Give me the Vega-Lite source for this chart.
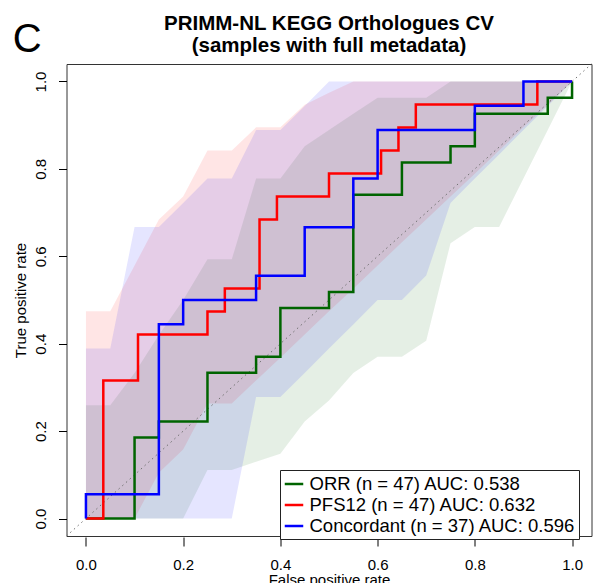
{
  "$schema": "https://vega.github.io/schema/vega-lite/v6.json",
  "width": 525,
  "height": 472,
  "autosize": {"type": "none"},
  "padding": {"left": 66.5, "top": 64, "right": 1.5, "bottom": 47},
  "background": "white",
  "config": {
    "font": "Liberation Sans",
    "view": {"stroke": "#333333", "strokeWidth": 1},
    "axis": {"grid": false, "domain": false, "labelColor": "black", "titleColor": "black", "tickColor": "black", "labelFontSize": 15, "titleFontSize": 15, "titleFontWeight": "normal"}
  },
  "title": {
    "text": ["PRIMM-NL KEGG Orthologues CV", "(samples with full metadata)"],
    "fontSize": 20.5,
    "fontWeight": "bold",
    "color": "black",
    "anchor": "middle",
    "offset": 8,
    "dy": 45,
    "lineHeight": 22
  },
  "datasets": {
    "bands": [
      {"s": "ORR", "fpr": 0, "lo": 0, "hi": 0.259},
      {"s": "ORR", "fpr": 0.05, "lo": 0, "hi": 0.259},
      {"s": "ORR", "fpr": 0.1, "lo": 0, "hi": 0.333},
      {"s": "ORR", "fpr": 0.15, "lo": 0, "hi": 0.42},
      {"s": "ORR", "fpr": 0.2, "lo": 0, "hi": 0.5},
      {"s": "ORR", "fpr": 0.25, "lo": 0.111, "hi": 0.593},
      {"s": "ORR", "fpr": 0.3, "lo": 0.111, "hi": 0.593},
      {"s": "ORR", "fpr": 0.35, "lo": 0.13, "hi": 0.778},
      {"s": "ORR", "fpr": 0.4, "lo": 0.148, "hi": 0.778},
      {"s": "ORR", "fpr": 0.45, "lo": 0.222, "hi": 0.852},
      {"s": "ORR", "fpr": 0.5, "lo": 0.27, "hi": 0.889},
      {"s": "ORR", "fpr": 0.55, "lo": 0.333, "hi": 0.926},
      {"s": "ORR", "fpr": 0.6, "lo": 0.37, "hi": 0.963},
      {"s": "ORR", "fpr": 0.65, "lo": 0.37, "hi": 0.963},
      {"s": "ORR", "fpr": 0.7, "lo": 0.407, "hi": 0.963},
      {"s": "ORR", "fpr": 0.75, "lo": 0.63, "hi": 1},
      {"s": "ORR", "fpr": 0.8, "lo": 0.667, "hi": 1},
      {"s": "ORR", "fpr": 0.85, "lo": 0.667, "hi": 1},
      {"s": "ORR", "fpr": 0.9, "lo": 0.778, "hi": 1},
      {"s": "ORR", "fpr": 0.95, "lo": 0.889, "hi": 1},
      {"s": "ORR", "fpr": 1, "lo": 1, "hi": 1},
      {"s": "PFS12", "fpr": 0, "lo": 0, "hi": 0.474},
      {"s": "PFS12", "fpr": 0.05, "lo": 0, "hi": 0.474},
      {"s": "PFS12", "fpr": 0.1, "lo": 0, "hi": 0.579},
      {"s": "PFS12", "fpr": 0.15, "lo": 0.105, "hi": 0.684},
      {"s": "PFS12", "fpr": 0.2, "lo": 0.158, "hi": 0.737},
      {"s": "PFS12", "fpr": 0.25, "lo": 0.263, "hi": 0.842},
      {"s": "PFS12", "fpr": 0.3, "lo": 0.263, "hi": 0.842},
      {"s": "PFS12", "fpr": 0.35, "lo": 0.316, "hi": 0.895},
      {"s": "PFS12", "fpr": 0.4, "lo": 0.368, "hi": 0.895},
      {"s": "PFS12", "fpr": 0.45, "lo": 0.421, "hi": 0.947},
      {"s": "PFS12", "fpr": 0.5, "lo": 0.474, "hi": 0.974},
      {"s": "PFS12", "fpr": 0.55, "lo": 0.526, "hi": 1},
      {"s": "PFS12", "fpr": 0.6, "lo": 0.579, "hi": 1},
      {"s": "PFS12", "fpr": 0.65, "lo": 0.632, "hi": 1},
      {"s": "PFS12", "fpr": 0.7, "lo": 0.684, "hi": 1},
      {"s": "PFS12", "fpr": 0.75, "lo": 0.737, "hi": 1},
      {"s": "PFS12", "fpr": 0.8, "lo": 0.789, "hi": 1},
      {"s": "PFS12", "fpr": 0.85, "lo": 0.842, "hi": 1},
      {"s": "PFS12", "fpr": 0.9, "lo": 0.895, "hi": 1},
      {"s": "PFS12", "fpr": 0.95, "lo": 0.947, "hi": 1},
      {"s": "PFS12", "fpr": 1, "lo": 1, "hi": 1},
      {"s": "Concordant", "fpr": 0, "lo": 0, "hi": 0.389},
      {"s": "Concordant", "fpr": 0.05, "lo": 0, "hi": 0.389},
      {"s": "Concordant", "fpr": 0.1, "lo": 0, "hi": 0.667},
      {"s": "Concordant", "fpr": 0.15, "lo": 0, "hi": 0.667},
      {"s": "Concordant", "fpr": 0.2, "lo": 0, "hi": 0.722},
      {"s": "Concordant", "fpr": 0.25, "lo": 0, "hi": 0.778},
      {"s": "Concordant", "fpr": 0.3, "lo": 0, "hi": 0.778},
      {"s": "Concordant", "fpr": 0.35, "lo": 0.278, "hi": 0.889},
      {"s": "Concordant", "fpr": 0.4, "lo": 0.278, "hi": 0.889},
      {"s": "Concordant", "fpr": 0.45, "lo": 0.333, "hi": 0.944},
      {"s": "Concordant", "fpr": 0.5, "lo": 0.389, "hi": 1},
      {"s": "Concordant", "fpr": 0.55, "lo": 0.444, "hi": 1},
      {"s": "Concordant", "fpr": 0.6, "lo": 0.5, "hi": 1},
      {"s": "Concordant", "fpr": 0.65, "lo": 0.5, "hi": 1},
      {"s": "Concordant", "fpr": 0.7, "lo": 0.556, "hi": 1},
      {"s": "Concordant", "fpr": 0.75, "lo": 0.722, "hi": 1},
      {"s": "Concordant", "fpr": 0.8, "lo": 0.778, "hi": 1},
      {"s": "Concordant", "fpr": 0.85, "lo": 0.833, "hi": 1},
      {"s": "Concordant", "fpr": 0.9, "lo": 0.889, "hi": 1},
      {"s": "Concordant", "fpr": 0.95, "lo": 0.944, "hi": 1},
      {"s": "Concordant", "fpr": 1, "lo": 1, "hi": 1}
    ],
    "roc": [
      {"s": "ORR", "i": 0, "fpr": 0, "tpr": 0},
      {"s": "ORR", "i": 1, "fpr": 0.1, "tpr": 0.1852},
      {"s": "ORR", "i": 2, "fpr": 0.15, "tpr": 0.2222},
      {"s": "ORR", "i": 3, "fpr": 0.25, "tpr": 0.3333},
      {"s": "ORR", "i": 4, "fpr": 0.35, "tpr": 0.3704},
      {"s": "ORR", "i": 5, "fpr": 0.4, "tpr": 0.4815},
      {"s": "ORR", "i": 6, "fpr": 0.5, "tpr": 0.5185},
      {"s": "ORR", "i": 7, "fpr": 0.55, "tpr": 0.7407},
      {"s": "ORR", "i": 8, "fpr": 0.65, "tpr": 0.8148},
      {"s": "ORR", "i": 9, "fpr": 0.75, "tpr": 0.8519},
      {"s": "ORR", "i": 10, "fpr": 0.8, "tpr": 0.9259},
      {"s": "ORR", "i": 11, "fpr": 0.95, "tpr": 0.963},
      {"s": "ORR", "i": 12, "fpr": 1, "tpr": 1},
      {"s": "PFS12", "i": 0, "fpr": 0, "tpr": 0},
      {"s": "PFS12", "i": 1, "fpr": 0.0357, "tpr": 0.3158},
      {"s": "PFS12", "i": 2, "fpr": 0.1071, "tpr": 0.4211},
      {"s": "PFS12", "i": 3, "fpr": 0.25, "tpr": 0.4737},
      {"s": "PFS12", "i": 4, "fpr": 0.2857, "tpr": 0.5263},
      {"s": "PFS12", "i": 5, "fpr": 0.3571, "tpr": 0.6842},
      {"s": "PFS12", "i": 6, "fpr": 0.3929, "tpr": 0.7368},
      {"s": "PFS12", "i": 7, "fpr": 0.5, "tpr": 0.7895},
      {"s": "PFS12", "i": 8, "fpr": 0.6071, "tpr": 0.8421},
      {"s": "PFS12", "i": 9, "fpr": 0.6429, "tpr": 0.8947},
      {"s": "PFS12", "i": 10, "fpr": 0.6786, "tpr": 0.9474},
      {"s": "PFS12", "i": 11, "fpr": 0.9286, "tpr": 1},
      {"s": "PFS12", "i": 12, "fpr": 1, "tpr": 1},
      {"s": "Concordant", "i": 0, "fpr": 0, "tpr": 0},
      {"s": "Concordant", "i": 1, "fpr": 0, "tpr": 0.0556},
      {"s": "Concordant", "i": 2, "fpr": 0.15, "tpr": 0.4444},
      {"s": "Concordant", "i": 3, "fpr": 0.2, "tpr": 0.5},
      {"s": "Concordant", "i": 4, "fpr": 0.35, "tpr": 0.5556},
      {"s": "Concordant", "i": 5, "fpr": 0.45, "tpr": 0.6667},
      {"s": "Concordant", "i": 6, "fpr": 0.55, "tpr": 0.7778},
      {"s": "Concordant", "i": 7, "fpr": 0.6, "tpr": 0.8889},
      {"s": "Concordant", "i": 8, "fpr": 0.8, "tpr": 0.9444},
      {"s": "Concordant", "i": 9, "fpr": 0.9, "tpr": 1},
      {"s": "Concordant", "i": 10, "fpr": 1, "tpr": 1}
    ]
  },
  "layer": [
    {
      "data": {"name": "bands"},
      "mark": {"type": "area", "fillOpacity": 0.1, "interpolate": "linear"},
      "encoding": {
        "x": {
          "field": "fpr", "type": "quantitative",
          "scale": {"domain": [-0.04, 1.04], "nice": false, "zero": false},
          "axis": {"values": [0, 0.2, 0.4, 0.6, 0.8, 1], "format": ".1f", "tickSize": 9, "offset": 1, "labelPadding": 11, "title": "False positive rate", "titlePadding": 0}
        },
        "y": {
          "field": "lo", "type": "quantitative",
          "scale": {"domain": [-0.04, 1.04], "nice": false, "zero": false},
          "axis": {"values": [0, 0.2, 0.4, 0.6, 0.8, 1], "format": ".1f", "tickSize": 8, "labelAngle": 270, "labelAlign": "center", "labelBaseline": "bottom", "labelPadding": 10, "title": "True positive rate", "titlePadding": 5}
        },
        "y2": {"field": "hi"},
        "fill": {
          "field": "s", "type": "nominal",
          "scale": {"domain": ["PFS12", "ORR", "Concordant"], "range": ["#FF0000", "#006400", "#0000FF"]},
          "legend": null
        }
      }
    },
    {
      "data": {"values": [{"a": -0.04, "b": 1.04}]},
      "mark": {"type": "rule", "strokeDash": [1.5, 3.5], "color": "#707070", "strokeWidth": 1},
      "encoding": {
        "x": {"field": "a", "type": "quantitative"},
        "y": {"field": "a", "type": "quantitative"},
        "x2": {"field": "b"},
        "y2": {"field": "b"}
      }
    },
    {
      "data": {"name": "roc"},
      "mark": {"type": "line", "interpolate": "step-after", "strokeWidth": 2.5},
      "encoding": {
        "x": {"field": "fpr", "type": "quantitative"},
        "y": {"field": "tpr", "type": "quantitative"},
        "order": {"field": "i", "type": "quantitative"},
        "color": {
          "field": "s", "type": "nominal",
          "scale": {"domain": ["ORR", "PFS12", "Concordant"], "range": ["#006400", "#FF0000", "#0000FF"]},
          "legend": {
            "orient": "none", "legendX": 213.5, "legendY": 406,
            "title": null,
            "symbolType": "stroke", "symbolSize": 342, "symbolStrokeWidth": 2.5,
            "labelFontSize": 18.5, "labelLimit": 400, "labelColor": "black", "labelOffset": 5,
            "rowPadding": 1,
            "fillColor": "white", "strokeColor": "#222222", "padding": 3.5, "cornerRadius": 0,
            "labelExpr": "datum.label == 'ORR' ? 'ORR (n = 47) AUC: 0.538' : datum.label == 'PFS12' ? 'PFS12 (n = 47) AUC: 0.632' : 'Concordant (n = 37) AUC: 0.596'"
          }
        }
      }
    },
    {
      "data": {"values": [{"t": "C", "px": -0.121, "py": 1.096}]},
      "mark": {"type": "text", "fontSize": 40, "color": "black", "align": "center", "baseline": "middle"},
      "encoding": {
        "text": {"field": "t"},
        "x": {"field": "px", "type": "quantitative"},
        "y": {"field": "py", "type": "quantitative"}
      }
    }
  ]
}
